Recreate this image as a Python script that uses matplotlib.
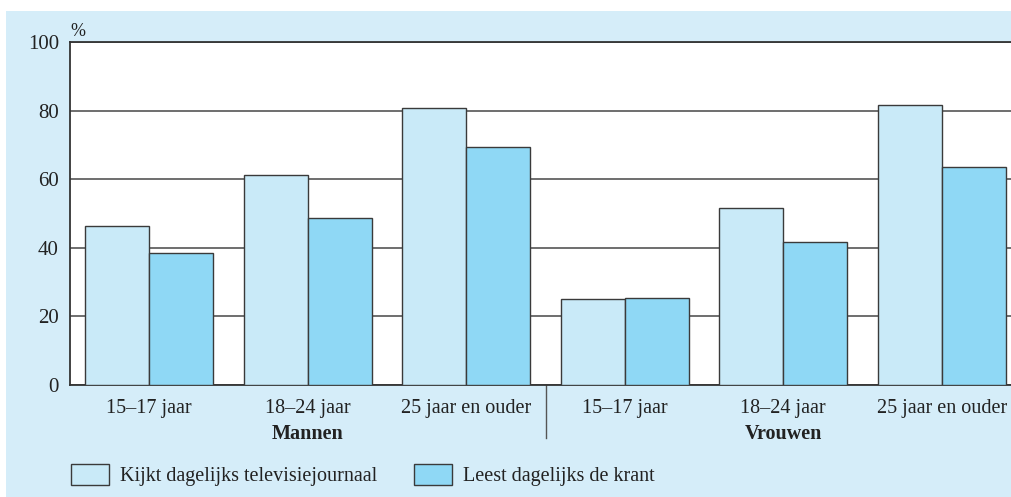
import matplotlib.pyplot as plt
import matplotlib.patches as mpatches
import numpy as np

plt.rcParams['font.family'] = ['Liberation Serif', 'DejaVu Serif']

groups = ['Mannen', 'Vrouwen']
ages = ['15–17 jaar', '18–24 jaar', '25 jaar en ouder']
series = ['Kijkt dagelijks televisiejournaal', 'Leest dagelijks de krant']
tv = [46.4, 61.2, 80.8, 25.1, 51.6, 81.6]
krant = [38.5, 48.7, 69.4, 25.4, 41.7, 63.6]
yticks = [0, 20, 40, 60, 80, 100]

c_tv = '#c9eaf8'
c_krant = '#8fd8f5'
bg = '#d5edf9'
edge = '#3a3a3a'
fs = 14.5

W, H = 1011, 497
fig = plt.figure(figsize=(W / 100, H / 100), dpi=100)
fig.patches.append(mpatches.Rectangle((6 / W, 0), 1, (H - 11) / H,
                                      transform=fig.transFigure,
                                      facecolor=bg, edgecolor='none', zorder=-10))

ax = fig.add_axes([70 / W, (H - 385) / H, (1021 - 70) / W, 343 / H])
ax.set_facecolor('white')

x = np.arange(len(tv)) + 0.5
bw = 64 / 158.5
ax.bar(x - bw / 2, tv, width=bw, color=c_tv, edgecolor=edge, linewidth=1, zorder=3,
       label=series[0])
ax.bar(x + bw / 2, krant, width=bw, color=c_krant, edgecolor=edge, linewidth=1, zorder=3,
       label=series[1])

ax.set_xlim(0, 6)
ax.set_ylim(0, 100)
ax.set_yticks(yticks)
ax.set_yticklabels([str(v) for v in yticks], fontsize=fs + 0.5, color='#222222')
ax.set_xticks(x)
ax.set_xticklabels(ages * 2, fontsize=fs, color='#222222')
ax.tick_params(axis='x', length=0, pad=10)
ax.tick_params(axis='y', length=0, pad=8)
ax.yaxis.grid(True, color='#555555', linewidth=1.2, zorder=0)
ax.set_axisbelow(True)
ax.spines['right'].set_visible(False)
for s in ['left', 'bottom', 'top']:
    ax.spines[s].set_color('#333333')
    ax.spines[s].set_linewidth(1.3)

ax.text(0, 1.005, '%', transform=ax.transAxes, fontsize=13, color='#222222',
        ha='left', va='bottom')

# group labels and separator
for i, g in enumerate(groups):
    ax.text(1.5 + 3 * i, -0.142, g, transform=ax.get_xaxis_transform(),
            fontsize=fs, fontweight='bold', ha='center', va='center', color='#222222')
ax.plot([3, 3], [0, -0.155], transform=ax.get_xaxis_transform(), color='#555555',
        linewidth=1, clip_on=False)

handles = [mpatches.Patch(facecolor=c_tv, edgecolor=edge, linewidth=1),
           mpatches.Patch(facecolor=c_krant, edgecolor=edge, linewidth=1)]
fig.legend(handles, series, loc='center left', bbox_to_anchor=(53 / W, (H - 475) / H),
           ncol=2, frameon=False, fontsize=fs, handlelength=1.9, handleheight=1.2,
           handletextpad=0.55, columnspacing=1.8, labelcolor='#222222')

fig.savefig('out.png', dpi=100)
